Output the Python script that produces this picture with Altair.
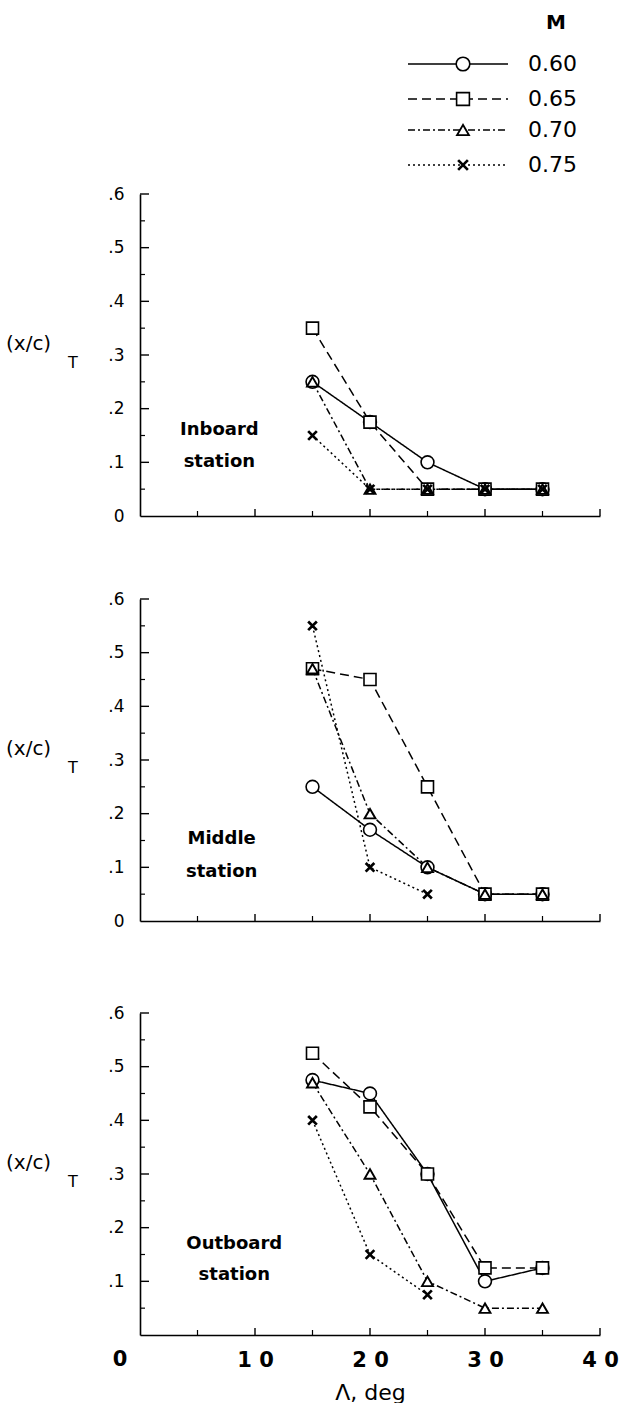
import altair as alt
import pandas as pd

# ---------------- data ----------------
sweep = [15, 20, 25, 30, 35]
mach_labels = ["0.60", "0.65", "0.70", "0.75"]

inboard_060 = [0.25, 0.175, 0.10, 0.05, 0.05]
inboard_065 = [0.35, 0.175, 0.05, 0.05, 0.05]
inboard_070 = [0.25, 0.05, 0.05, 0.05, 0.05]
inboard_075 = [0.15, 0.05, 0.05, 0.05, 0.05]

middle_060 = [0.25, 0.17, 0.10, 0.05, 0.05]
middle_065 = [0.47, 0.45, 0.25, 0.05, 0.05]
middle_070 = [0.47, 0.20, 0.10, 0.05, 0.05]
middle_075 = [0.55, 0.10, 0.05, None, None]

outboard_060 = [0.475, 0.45, 0.30, 0.10, 0.125]
outboard_065 = [0.525, 0.425, 0.30, 0.125, 0.125]
outboard_070 = [0.47, 0.30, 0.10, 0.05, 0.05]
outboard_075 = [0.40, 0.15, 0.075, None, None]

station_names = [["Inboard", "station"], ["Middle", "station"], ["Outboard", "station"]]
station_label_x = [6.9, 7.1, 8.2]
station_label_y = [[0.160, 0.101], [0.153, 0.091], [0.169, 0.111]]

y_major = [0.1, 0.2, 0.3, 0.4, 0.5, 0.6]
y_minor = [0.05, 0.15, 0.25, 0.35, 0.45, 0.55]
x_major = [10, 20, 30, 40]
x_minor = [5, 15, 25, 35]
x_labels = [0, 10, 20, 30, 40]

# ---------------- styles ----------------
FONT = "DejaVu Sans"
W, H = 460, 322
dashes = [[1, 0], [9, 5], [7, 3, 2, 3], [2, 3]]
shapes = ["circle", "square", "triangle-up", "M-1,-1L1,1M-1,1L1,-1"]
sizes = [165, 144, 120, 75]
swidths = [1.6, 1.6, 1.9, 2.7]
legend_rows = [-130, -95, -64, -29]

xs = alt.Scale(domain=[0, 40], nice=False, zero=False)
ys = alt.Scale(domain=[0, 0.6], nice=False, zero=False)
one = pd.DataFrame({"a": [0]})


def make_axes(show_x, y_values):
    y_axis = alt.Axis(
        title=None, values=y_values, ticks=False, grid=False,
        domainColor="black", domainWidth=1.6,
        labelExpr="datum.value == 0 ? '0' : replace(format(datum.value, '.1f'), '0.', '.')",
        labelFont=FONT, labelFontSize=17, labelColor="black", labelPadding=16,
        labelOverlap=False,
    )
    if show_x:
        x_axis = alt.Axis(
            title="Λ, deg", values=x_labels[1:], ticks=False, grid=False,
            domainColor="black", domainWidth=1.6,
            labelExpr="join(split(toString(datum.value), ''), ' ')",
            labelFont=FONT, labelFontSize=21, labelFontWeight="bold", labelColor="black",
            labelPadding=14, labelFlush=False, labelOverlap=False,
            titleFont=FONT, titleFontSize=22, titleFontWeight="normal", titleColor="black",
            titlePadding=12,
        )
    else:
        x_axis = alt.Axis(title=None, values=x_labels, ticks=False, labels=False, grid=False,
                          domainColor="black", domainWidth=1.6)
    return x_axis, y_axis


def panel(series, idx, show_x, y_values, legend=False):
    x_axis, y_axis = make_axes(show_x, y_values)
    X = lambda f: alt.X(f"{f}:Q", scale=xs, axis=x_axis)
    Y = lambda f: alt.Y(f"{f}:Q", scale=ys, axis=y_axis)

    rows = []
    for m, vals in zip(mach_labels, series):
        for s, v in zip(sweep, vals):
            if v is not None:
                rows.append({"sweep": s, "xc": v, "M": m})
    df = pd.DataFrame(rows)

    layers = []
    # ticks (inward)
    layers.append(alt.Chart(pd.DataFrame({"v": y_major})).mark_rule(color="black", strokeWidth=1.4)
                  .encode(y=Y("v"), x=alt.value(0), x2=alt.value(9)))
    layers.append(alt.Chart(pd.DataFrame({"v": y_minor})).mark_rule(color="black", strokeWidth=1.2)
                  .encode(y=Y("v"), x=alt.value(0), x2=alt.value(5)))
    layers.append(alt.Chart(pd.DataFrame({"v": x_major})).mark_rule(color="black", strokeWidth=1.4)
                  .encode(x=X("v"), y=alt.value(H), y2=alt.value(H - 7)))
    layers.append(alt.Chart(pd.DataFrame({"v": x_minor})).mark_rule(color="black", strokeWidth=1.2)
                  .encode(x=X("v"), y=alt.value(H), y2=alt.value(H - 5)))

    # lines
    for i, m in enumerate(mach_labels):
        sub = df[df["M"] == m]
        layers.append(alt.Chart(sub).mark_line(color="black", strokeWidth=1.5, strokeDash=dashes[i])
                      .encode(x=X("sweep"), y=Y("xc"), order="sweep:Q"))
    # markers
    for i, m in enumerate(mach_labels):
        sub = df[df["M"] == m]
        layers.append(alt.Chart(sub).mark_point(shape=shapes[i], size=sizes[i], filled=True,
                                                fill="white", stroke="black", strokeWidth=swidths[i],
                                                opacity=1, fillOpacity=1)
                      .encode(x=X("sweep"), y=Y("xc")))

    # station label
    st = pd.DataFrame({"sx": [station_label_x[idx]] * 2, "sy": station_label_y[idx],
                       "txt": station_names[idx]})
    layers.append(alt.Chart(st).mark_text(font=FONT, fontSize=18, fontWeight="bold", color="black",
                                          align="center", baseline="middle")
                  .encode(x=X("sx"), y=Y("sy"), text="txt:N"))

    # y title (x/c)_T
    layers.append(alt.Chart(one).mark_text(text="(x/c)", font=FONT, fontSize=20, color="black",
                                           align="left", baseline="middle")
                  .encode(x=alt.value(-134), y=alt.value(150)))
    layers.append(alt.Chart(one).mark_text(text="T", font=FONT, fontSize=16, color="black",
                                           align="center", baseline="middle")
                  .encode(x=alt.value(-67), y=alt.value(169)))

    if show_x:
        # the "0" tick label of the sweep axis, set left of the corner as in the original
        z = pd.DataFrame({"v": [x_labels[0]], "t": [str(x_labels[0])]})
        layers.append(alt.Chart(z).mark_text(font=FONT, fontSize=21, fontWeight="bold", color="black",
                                             align="center", baseline="top", dx=-20)
                      .encode(x=X("v"), y=alt.value(H + 14), text="t:N"))

    if legend:
        layers.append(alt.Chart(one).mark_text(text="M", font=FONT, fontSize=20, fontWeight="bold",
                                               color="black", align="center", baseline="middle")
                      .encode(x=alt.value(416), y=alt.value(-171)))
        for i, lab in enumerate(mach_labels):
            yy = legend_rows[i]
            layers.append(alt.Chart(one).mark_rule(color="black", strokeWidth=1.4, strokeDash=dashes[i])
                          .encode(x=alt.value(268), x2=alt.value(368), y=alt.value(yy)))
            layers.append(alt.Chart(one).mark_point(shape=shapes[i], size=sizes[i] + 20, filled=True,
                                                    fill="white", stroke="black",
                                                    strokeWidth=swidths[i], opacity=1, fillOpacity=1)
                          .encode(x=alt.value(323), y=alt.value(yy)))
            layers.append(alt.Chart(one).mark_text(text=lab, font=FONT, fontSize=22, color="black",
                                                   align="left", baseline="middle")
                          .encode(x=alt.value(388), y=alt.value(yy)))

    return alt.layer(*layers).properties(width=W, height=H)


p1 = panel([inboard_060, inboard_065, inboard_070, inboard_075], 0, False,
           [0, 0.1, 0.2, 0.3, 0.4, 0.5, 0.6], legend=True)
p2 = panel([middle_060, middle_065, middle_070, middle_075], 1, False,
           [0, 0.1, 0.2, 0.3, 0.4, 0.5, 0.6])
p3 = panel([outboard_060, outboard_065, outboard_070, outboard_075], 2, True,
           [0.1, 0.2, 0.3, 0.4, 0.5, 0.6])

chart = alt.vconcat(alt.vconcat(p1, p2, spacing=66), p3, spacing=75).properties(
    padding={"left": 6, "top": 13, "right": 0, "bottom": 0},
    background="white",
).configure_view(stroke=None)

chart.save("out.html", embed_options={"renderer": "svg", "actions": False})
